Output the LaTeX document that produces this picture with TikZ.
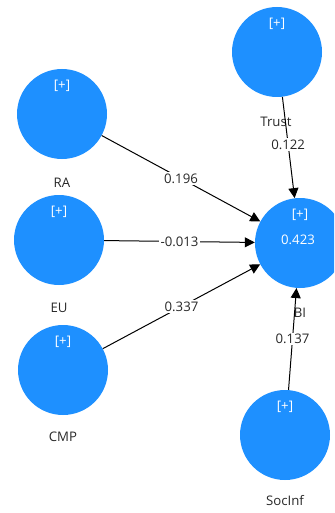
\documentclass[tikz,border=0pt]{standalone}
\usepackage{fontspec}
\setmainfont{Open Sans}
\usetikzlibrary{arrows.meta}
\definecolor{lv}{RGB}{30,144,255}
\definecolor{lbl}{RGB}{40,40,40}
\begin{document}
\begin{tikzpicture}[x=1pt,y=-1pt,
  every node/.style={font=\fontsize{13.2}{15}\selectfont},
  latent/.style={circle,fill=lv,minimum size=90pt,inner sep=0pt},
  plus/.style={text=white},
  conname/.style={text=lbl},
  coef/.style={fill=white,text=lbl,inner sep=1.5pt},
  pathline/.style={draw=black,line width=1pt,-{Triangle[length=10pt,width=10pt]}}]
\useasboundingbox (0,0) rectangle (334,513);
\clip (0,0) rectangle (334,513);
% constructs
\node[latent] (RA) at (62,114) {};
\node[latent] (EU) at (59,240) {};
\node[latent] (CMP) at (63,370) {};
\node[latent] (Trust) at (277,52) {};
\node[latent] (BI) at (300,243) {};
\node[latent] (SocInf) at (285,435) {};
% expand markers
\foreach \n/\x/\y in {RA/62/114,EU/59/240,CMP/63/370,Trust/277/52,BI/300/243,SocInf/285/435}
  \node[plus] (p\n) at (\x,\y-28) {[+]};
\node[plus] (r2) at (298,240) {0.423};
% construct names
\node[conname] (tRA) at (62,183) {RA};
\node[conname] (tEU) at (59,308) {EU};
\node[conname] (tCMP) at (63,437) {CMP};
\node[conname] (tTrust) at (276,122) {Trust};
\node[conname] (tBI) at (300,313) {BI};
\node[conname] (tSocInf) at (285,501) {SocInf};
% structural paths
\draw[pathline] (RA) -- (BI) node[coef,pos=0.5] (cRA) {0.196};
\draw[pathline] (EU) -- (BI) node[coef,pos=0.5] (cEU) {-0.013};
\draw[pathline] (CMP) -- (BI) node[coef,pos=0.5] (cCMP) {0.337};
\draw[pathline] (Trust) -- (BI) node[coef,pos=0.47] (cTrust) {0.122};
\draw[pathline] (SocInf) -- (BI) node[coef,pos=0.5] (cSoc) {0.137};
\end{tikzpicture}
\end{document}
